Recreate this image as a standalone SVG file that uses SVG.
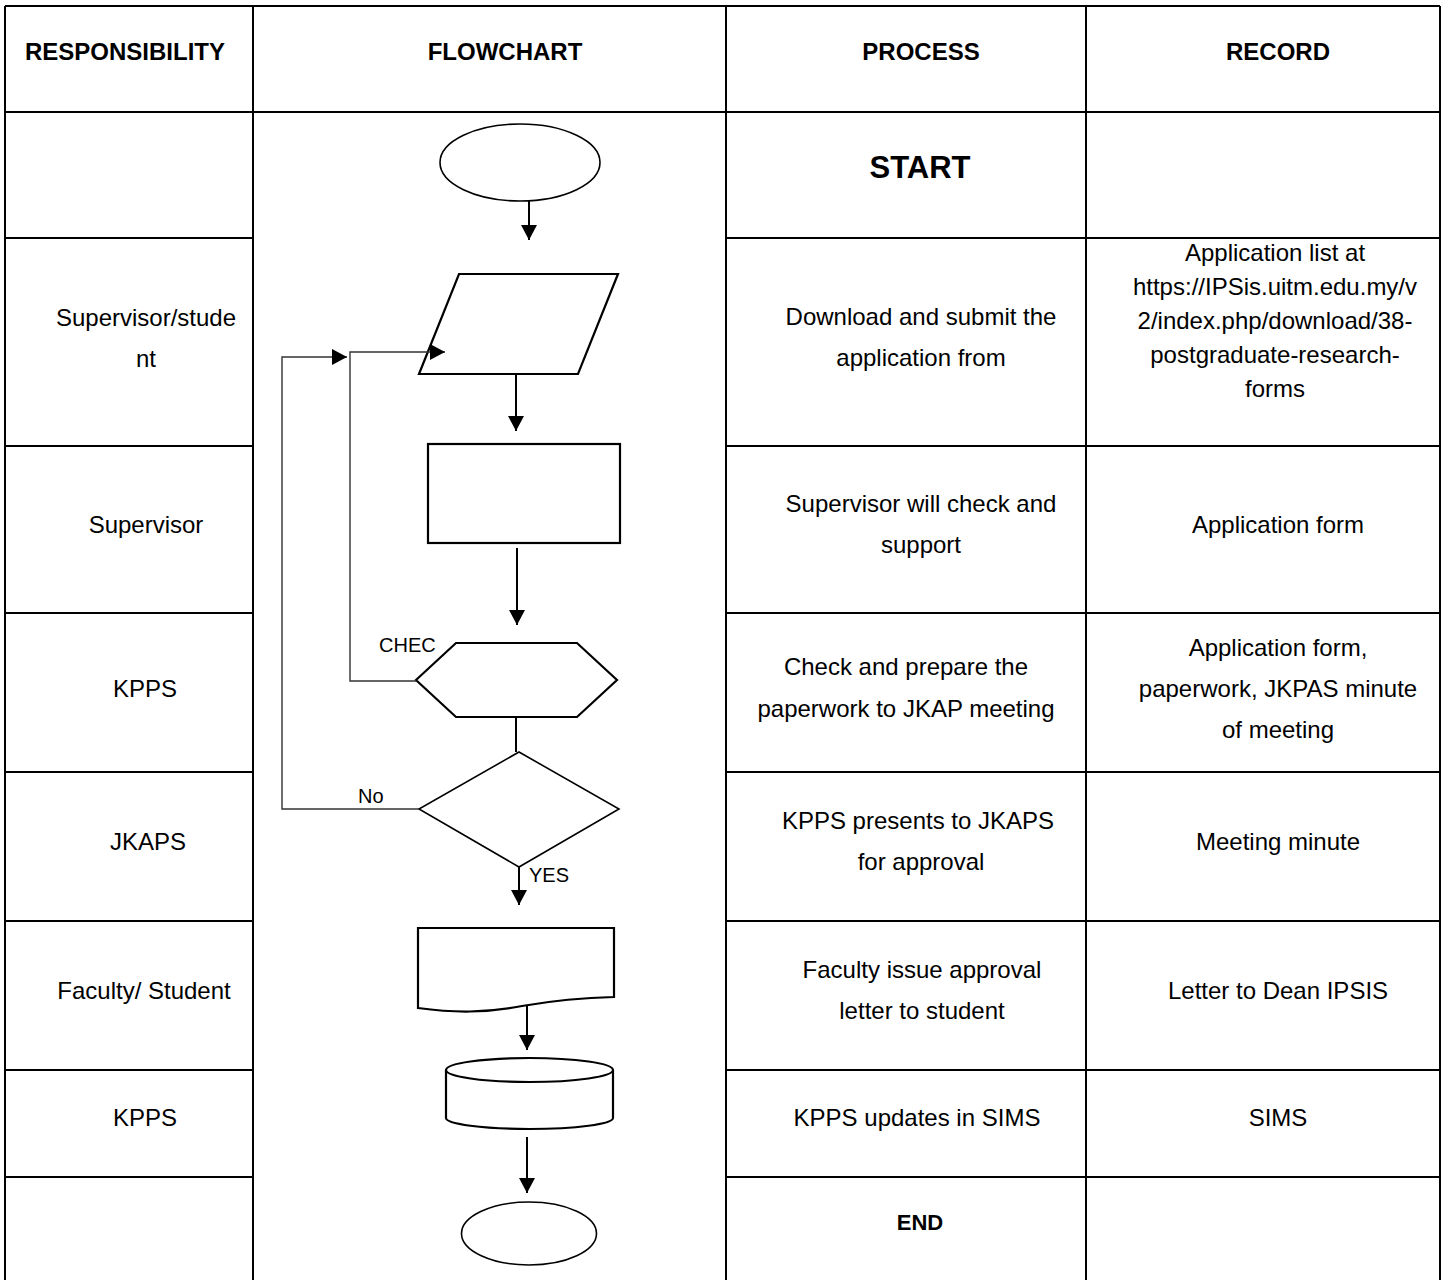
<svg xmlns="http://www.w3.org/2000/svg" width="1445" height="1280" viewBox="0 0 1445 1280">
  <style>
    .grid { stroke: #000; stroke-width: 2; fill: none; }
    .shape { stroke: #000; stroke-width: 2.2; fill: #fff; }
    .oval { stroke: #000; stroke-width: 1.6; fill: #fff; }
    .flow { stroke: #000; stroke-width: 2; fill: none; }
    .loop { stroke: #333; stroke-width: 1.4; fill: none; }
    text { font-family: "Liberation Sans", Arial, sans-serif; fill: #000; }
    .hd { font-size: 24px; font-weight: bold; text-anchor: middle; }
    .tx { font-size: 24px; text-anchor: middle; }
    .lb { font-size: 20px; }
  </style>
  <defs>
    <marker id="arrow" markerUnits="userSpaceOnUse" markerWidth="16" markerHeight="16" viewBox="0 0 16 16" refX="15" refY="8" orient="auto">
      <path d="M0,0 L15,8 L0,16 Z" fill="#000"/>
    </marker>
  </defs>

  <!-- table frame -->
  <g id="table">
    <line class="grid" x1="5" y1="6" x2="1440" y2="6"/>
    <line class="grid" x1="5" y1="112" x2="1440" y2="112"/>
    <line class="grid" x1="5" y1="6" x2="5" y2="1280"/>
    <line class="grid" x1="253" y1="6" x2="253" y2="1280"/>
    <line class="grid" x1="726" y1="6" x2="726" y2="1280"/>
    <line class="grid" x1="1086" y1="6" x2="1086" y2="1280"/>
    <line class="grid" x1="1440" y1="6" x2="1440" y2="1280"/>
    <!-- row separators (flowchart column is one merged cell) -->
    <path class="grid" d="M5,238 H253 M726,238 H1440
                          M5,446 H253 M726,446 H1440
                          M5,613 H253 M726,613 H1440
                          M5,772 H253 M726,772 H1440
                          M5,921 H253 M726,921 H1440
                          M5,1070 H253 M726,1070 H1440
                          M5,1177 H253 M726,1177 H1440"/>
  </g>

  <!-- header row -->
  <g id="header">
    <text class="hd" x="125" y="60">RESPONSIBILITY</text>
    <text class="hd" x="505" y="60">FLOWCHART</text>
    <text class="hd" x="921" y="60">PROCESS</text>
    <text class="hd" x="1278" y="60">RECORD</text>
  </g>

  <!-- responsibility column -->
  <g id="responsibility">
    <text class="tx" x="146" y="326">Supervisor/stude</text>
    <text class="tx" x="146" y="367">nt</text>
    <text class="tx" x="146" y="533">Supervisor</text>
    <text class="tx" x="145" y="697">KPPS</text>
    <text class="tx" x="148" y="850">JKAPS</text>
    <text class="tx" x="144" y="999">Faculty/ Student</text>
    <text class="tx" x="145" y="1126">KPPS</text>
  </g>

  <!-- process column -->
  <g id="process">
    <text x="920" y="178" style="font-size:31px;font-weight:bold;text-anchor:middle">START</text>
    <text class="tx" x="921" y="325">Download and submit the</text>
    <text class="tx" x="921" y="366">application from</text>
    <text class="tx" x="921" y="512">Supervisor will check and</text>
    <text class="tx" x="921" y="553">support</text>
    <text class="tx" x="906" y="675">Check and prepare the</text>
    <text class="tx" x="906" y="717">paperwork to JKAP meeting</text>
    <text class="tx" x="918" y="829">KPPS presents to JKAPS</text>
    <text class="tx" x="921" y="870">for approval</text>
    <text class="tx" x="922" y="978">Faculty issue approval</text>
    <text class="tx" x="922" y="1019">letter to student</text>
    <text class="tx" x="917" y="1126">KPPS updates in SIMS</text>
    <text x="920" y="1230" style="font-size:22px;font-weight:bold;text-anchor:middle">END</text>
  </g>

  <!-- record column -->
  <g id="record">
    <text class="tx" x="1275" y="261">Application list at</text>
    <text class="tx" x="1275" y="295">https://IPSis.uitm.edu.my/v</text>
    <text class="tx" x="1275" y="329">2/index.php/download/38-</text>
    <text class="tx" x="1275" y="363">postgraduate-research-</text>
    <text class="tx" x="1275" y="397">forms</text>
    <text class="tx" x="1278" y="533">Application form</text>
    <text class="tx" x="1278" y="656">Application form,</text>
    <text class="tx" x="1278" y="697">paperwork, JKPAS minute</text>
    <text class="tx" x="1278" y="738">of meeting</text>
    <text class="tx" x="1278" y="850">Meeting minute</text>
    <text class="tx" x="1278" y="999">Letter to Dean IPSIS</text>
    <text class="tx" x="1278" y="1126">SIMS</text>
  </g>

  <!-- flowchart nodes -->
  <g id="node-start">
    <ellipse class="oval" cx="520" cy="162.5" rx="80" ry="38.5"/>
  </g>
  <g id="node-input">
    <polygon class="shape" points="459,274 618,274 578,374 419,374"/>
  </g>
  <g id="node-process">
    <rect class="shape" x="428" y="444" width="192" height="99"/>
  </g>
  <g id="node-check">
    <polygon class="shape" points="416,680 456,643 577,643 617,680 577,717 456,717"/>
    <text class="lb" x="379" y="652">CHEC</text>
  </g>
  <g id="node-decision">
    <polygon class="oval" points="519,752 619,809 519,867 419,809"/>
  </g>
  <g id="node-document">
    <path class="shape" d="M418,928 H614 V997 C570,998 545,1002 522,1006 C485,1013 455,1013 418,1008 Z"/>
  </g>
  <g id="node-database">
    <path class="shape" d="M446,1070 A83.5,12 0 0 1 613,1070 V1118 A83.5,11 0 0 1 446,1118 Z"/>
    <path class="shape" d="M446,1070 A83.5,12 0 0 0 613,1070" fill="none"/>
  </g>
  <g id="node-end">
    <ellipse class="oval" cx="529" cy="1233.5" rx="67.5" ry="31.5"/>
  </g>

  <!-- flowchart connectors -->
  <g id="connectors">
    <line class="flow" x1="529" y1="201" x2="529" y2="240" marker-end="url(#arrow)"/>
    <line class="flow" x1="516" y1="374" x2="516" y2="431" marker-end="url(#arrow)"/>
    <line class="flow" x1="517" y1="548" x2="517" y2="625" marker-end="url(#arrow)"/>
    <line class="flow" x1="516" y1="717" x2="516" y2="752"/>
    <line class="flow" x1="519" y1="867" x2="519" y2="905" marker-end="url(#arrow)"/>
    <line class="flow" x1="527" y1="1006" x2="527" y2="1050" marker-end="url(#arrow)"/>
    <line class="flow" x1="527" y1="1137" x2="527" y2="1193" marker-end="url(#arrow)"/>
    <!-- rejection loop back from the decision -->
    <polyline class="loop" points="419,809 282,809 282,357 347,357" marker-end="url(#arrow)"/>
    <!-- loop back from the check step -->
    <polyline class="loop" points="416,681 350,681 350,352 445,352" marker-end="url(#arrow)"/>
    <text class="lb" x="358" y="803">No</text>
    <text class="lb" x="529" y="882">YES</text>
  </g>
</svg>
